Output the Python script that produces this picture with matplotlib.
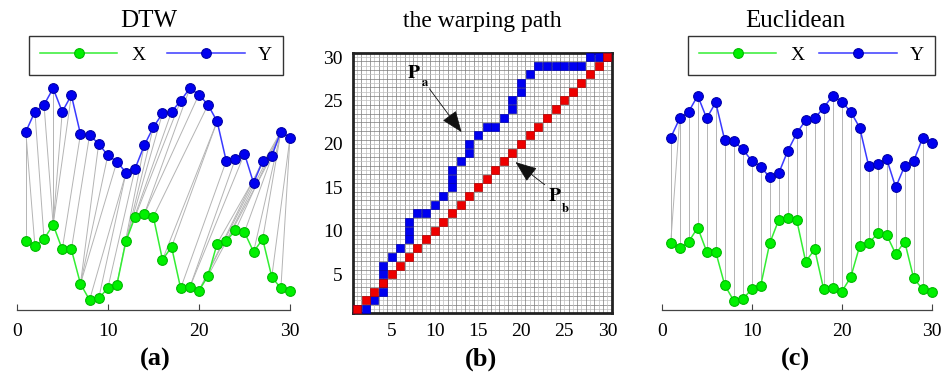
import numpy as np
import matplotlib
matplotlib.use('Agg')
import matplotlib.pyplot as plt

plt.rcParams['font.family'] = ['Liberation Serif', 'DejaVu Serif']
plt.rcParams['mathtext.fontset'] = 'stix'

# time index of both series
idx = np.arange(1, 31)

# series X (green) and Y (blue)
x_series = [4.0, 3.7, 4.1, 4.94, 3.5, 3.5, 1.5, 0.56, 0.66, 1.24,
            1.46, 4.0, 5.4, 5.54, 5.4, 2.9, 3.64, 1.24, 1.3, 1.1,
            1.96, 3.84, 4.0, 4.6, 4.5, 3.36, 4.1, 1.9, 1.24, 1.1]
y_series = [10.34, 11.5, 11.9, 12.86, 11.5, 12.46, 10.2, 10.14, 9.64, 8.96,
            8.6, 7.96, 8.2, 9.54, 10.6, 11.4, 11.5, 12.14, 12.86, 12.5,
            11.9, 10.94, 8.64, 8.76, 9.06, 7.36, 8.64, 8.94, 10.34, 10.0]

# DTW warping path P_a (index into X, index into Y)
dtw_path_x = [1, 2, 3, 4, 4, 4, 4, 5, 6, 7, 7, 7, 8, 9, 10, 11, 12, 12, 12, 13,
              14, 14, 15, 16, 17, 18, 19, 19, 20, 20, 21, 22, 23, 24, 25, 26, 27, 28, 29, 30]
dtw_path_y = [1, 1, 2, 3, 4, 5, 6, 7, 8, 9, 10, 11, 12, 12, 13, 14, 15, 16, 17, 18,
              19, 20, 21, 22, 22, 23, 24, 25, 26, 27, 28, 29, 29, 29, 29, 29, 29, 30, 30, 30]

# euclidean path P_b (diagonal), plus the one slanted link seen in (c)
euc_path_x = list(idx) + [1]
euc_path_y = list(idx) + [2]

green_line = '#33ee33'
green_mark = '#00f000'
blue_line = '#3a3aff'
blue_mark = '#0000f0'
link_col = '#b4b4b4'


def series_panel(ax, px, py, ylim):
    for i, j in zip(px, py):
        ax.plot([i, j], [x_series[i - 1], y_series[j - 1]], color=link_col, lw=0.7, zorder=1)
    ax.plot(idx, x_series, '-o', color=green_line, mfc=green_mark, mec='#00b800',
            ms=7, mew=0.8, lw=1.1, zorder=3, clip_on=False, label='X')
    ax.plot(idx, y_series, '-o', color=blue_line, mfc=blue_mark, mec='#0000a8',
            ms=7, mew=0.8, lw=1.1, zorder=3, clip_on=False, label='Y')
    ax.set_xlim(0, 30)
    ax.set_ylim(*ylim)
    for s in ['left', 'right', 'top']:
        ax.spines[s].set_visible(False)
    ax.spines['bottom'].set_linewidth(0.9)
    ax.spines['bottom'].set_color('#444444')
    ax.set_yticks([])
    ax.set_xticks([0, 10, 20, 30])
    ax.tick_params(axis='x', direction='in', length=4, color='#444444', labelsize=14, pad=9)
    ax.patch.set_alpha(0)


fig = plt.figure(figsize=(9.43, 3.76), dpi=100)

W, H = 943.0, 376.0
ax_a = fig.add_axes([16.7 / W, 1 - 310 / H, 273.3 / W, 274 / H])
ax_b = fig.add_axes([352.7 / W, 1 - 313.3 / H, 259 / W, 260.6 / H])
ax_c = fig.add_axes([661.7 / W, 1 - 310 / H, 270 / W, 274 / H])

series_panel(ax_a, dtw_path_x, dtw_path_y, (-0.02, 15.9))
series_panel(ax_c, euc_path_x, euc_path_y, (0, 16.44))

# legends, MATLAB style boxes across the top
for ax, x0, x1 in [(ax_a, 29, 283), (ax_c, 688, 935)]:
    ax.legend(loc='upper left', bbox_to_anchor=(x0 / W, 1 - 36 / H, (x1 - x0) / W, 0.0),
              bbox_transform=fig.transFigure, mode='expand', ncol=2, fontsize=14,
              frameon=True, fancybox=False, framealpha=1, edgecolor='#333333',
              handlelength=4.0, handletextpad=0.7, borderpad=0.55, borderaxespad=0)
    ax.get_legend().get_frame().set_linewidth(1.0)

# warping path grid
ax_b.set_xlim(0.5, 30.5)
ax_b.set_ylim(0.5, 30.5)
for k, g in enumerate(np.arange(0.5, 30.6, 0.5)):
    c = '#7a7a7a' if k % 2 == 0 else '#bdbdbd'
    ax_b.axvline(g, color=c, lw=0.5, zorder=1)
    ax_b.axhline(g, color=c, lw=0.5, zorder=1)
ax_b.plot(dtw_path_x, dtw_path_y, 's', color=blue_mark, ms=5.8, mec='#0000b0', mew=0.5, zorder=3)
ax_b.plot(idx, idx, 's', color='#ee0000', ms=5.8, mec='#b00000', mew=0.5, zorder=4)
ax_b.set_xticks([5, 10, 15, 20, 25, 30])
ax_b.set_yticks([5, 10, 15, 20, 25, 30])
ax_b.tick_params(length=0, labelsize=14)
ax_b.tick_params(axis='x', pad=7)
ax_b.tick_params(axis='y', pad=7)
for s in ax_b.spines.values():
    s.set_linewidth(2.0)
    s.set_color('#222222')

arrow_style = '-|>,head_length=0.9,head_width=0.35'
ax_b.annotate('', xy=(13.3, 21.1), xytext=(9.2, 26.6),
              arrowprops=dict(arrowstyle=arrow_style, color='#111111', lw=0.6, mutation_scale=15),
              zorder=6)
ax_b.text(7.6, 28.1, r'$\mathbf{P}$', fontsize=14, ha='center', va='center', zorder=6)
ax_b.text(8.9, 27.0, r'$\mathbf{a}$', fontsize=9, ha='center', va='center', zorder=6)
ax_b.annotate('', xy=(19.1, 18.1), xytext=(23.0, 15.1),
              arrowprops=dict(arrowstyle=arrow_style, color='#111111', lw=0.6, mutation_scale=15),
              zorder=6)
ax_b.text(23.9, 13.9, r'$\mathbf{P}$', fontsize=14, ha='center', va='center', zorder=6)
ax_b.text(25.1, 12.6, r'$\mathbf{b}$', fontsize=9, ha='center', va='center', zorder=6)

# titles and panel letters
fig.text(149 / W, 1 - 20.7 / H, 'DTW', fontsize=18, ha='center', va='center')
fig.text(482 / W, 1 - 21 / H, 'the warping path', fontsize=17, ha='center', va='center')
fig.text(795 / W, 1 - 20.7 / H, 'Euclidean', fontsize=18, ha='center', va='center')
fig.text(155 / W, 1 - 359 / H, '(a)', fontsize=19, fontweight='bold', ha='center', va='center')
fig.text(481 / W, 1 - 359 / H, '(b)', fontsize=19, fontweight='bold', ha='center', va='center')
fig.text(795 / W, 1 - 359 / H, '(c)', fontsize=19, fontweight='bold', ha='center', va='center')

fig.savefig('out.png', dpi=100)
